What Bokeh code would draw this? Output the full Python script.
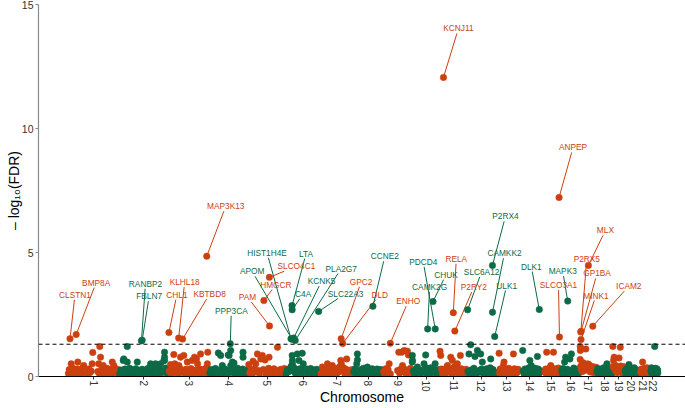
import math
import numpy as np
from bokeh.plotting import figure
from bokeh.models import ColumnDataSource, FixedTicker, Span, Range1d
from bokeh.core.properties import value
from bokeh.embed import file_html
from bokeh.resources import INLINE

# ---------------------------------------------------------------- data
chrom_labels = ["1", "2", "3", "4", "5", "6", "7", "8", "9", "10", "11",
                "12", "13", "14", "15", "16", "17", "18", "19", "20", "21", "22"]
chrom_len_mb = [249.3, 243.2, 198.0, 191.2, 180.9, 171.1, 159.1, 146.4, 141.2, 135.5, 135.0,
                133.9, 115.2, 107.3, 102.5, 90.4, 81.2, 78.1, 59.1, 63.0, 48.1, 51.3]

# background genes: position within chromosome (Mb) and -log10(FDR)
bg_pos = [
    [2, 6, 11, 15.6, 16, 20, 26, 31, 36, 41, 46, 48, 55, 60, 66, 72, 77, 84, 90, 96, 101, 108, 113, 118, 121,
     145, 150, 153, 155, 159, 165, 170, 172, 178, 184, 190, 196, 202, 208, 214, 216, 220, 224, 229, 235, 241, 246],
    [3, 9, 15, 20.5, 23, 28, 34, 40, 40, 46, 52, 58, 64, 70, 76, 82, 89, 95, 101, 107, 113, 120, 128, 134, 140,
     146, 152, 154, 154, 160, 166, 172, 178, 184, 190, 196, 203, 208, 214, 219, 222, 222, 222, 228, 234, 240],
    [2, 8, 12, 18, 24, 29, 33, 40, 46, 49, 53, 57, 62, 68, 73, 78, 84, 90, 96, 102, 108, 114, 120, 125, 130,
     135, 140, 145, 150, 155, 160, 166, 172, 178, 183, 188, 190, 194],
    [2, 8, 14, 20, 26, 30, 36, 43.5, 48, 55, 60, 63, 68, 74, 80, 86, 92, 96, 100, 104, 104, 108, 112, 116, 120,
     126, 132, 138, 144, 150, 156, 162, 164, 164, 170, 176, 182, 188],
    [1, 6, 12, 18, 22, 28, 35, 40, 43, 48, 54, 60, 67, 72, 80, 86, 92, 98, 100, 106, 112, 118, 124, 130, 136,
     141, 146, 152, 158, 164, 170, 175, 179],
    [2, 7, 12, 18, 24, 28, 30, 31, 32, 33, 33.5, 35, 38, 43, 48, 53, 57, 62, 65, 70, 76, 81, 86, 92, 98, 104,
     110, 116, 122, 128, 134, 140, 146, 152, 158, 164, 168],
    [2, 8, 13, 19, 25, 30, 33, 38, 44, 50, 57, 63, 70, 76, 82, 88, 94, 98, 101, 106, 112, 118, 124, 127, 132,
     138, 144, 150, 156],
    [2, 8, 14, 17, 20, 20.5, 26, 32, 38, 44, 50, 56, 62, 69, 75, 81, 87, 93, 99, 105, 111, 117, 123, 129, 135, 141],
    [2, 7, 12, 18, 24, 29, 35, 70, 76, 80, 86, 90, 94, 98, 103, 108, 113, 118, 123, 128, 133, 138],
    [0.5, 1, 1.5, 6, 12, 18, 26, 32, 40, 46, 52, 58, 62, 66, 70, 75, 80, 86, 92, 98, 104, 108, 112, 118, 124,
     130, 134],
    [0.5, 4, 8, 13, 19, 25, 31, 37, 43, 48, 53, 58, 61, 66, 70, 75, 80, 85, 90, 95, 100, 105, 110, 116, 122,
     128, 133],
    [2, 7, 11, 15, 20, 26, 31, 36, 42, 48, 54, 58, 64, 68, 72, 77, 82, 88, 94, 100, 106, 110, 113, 118, 124,
     129, 133],
    [20, 22, 25, 28, 32, 36, 41, 44, 48, 52, 57, 62, 67, 72, 77, 82, 87, 90, 95, 100, 105, 110, 113],
    [20, 23, 27, 31, 35, 40, 45, 50, 55, 59, 62, 66, 70, 74, 78, 82, 86, 90, 92, 96, 100, 104],
    [21, 25, 28, 30, 34, 38, 42, 46, 50, 54, 58, 63, 67, 71, 75, 79, 83, 87, 94, 98, 101],
    [1, 4, 8, 12, 15, 20, 24, 28, 31, 41, 48, 52, 56, 60, 64, 68, 72, 76, 80, 84, 88],
    [0.5, 1, 1.5, 3, 6, 9, 12, 15, 18, 22, 26, 28, 30, 34, 38, 40, 42, 46, 50, 54, 58, 62, 66, 70, 74, 78, 80],
    [1, 5, 9, 13, 17, 21, 25, 30, 34, 38, 42, 46, 50, 54, 58, 62, 66, 70, 74, 77],
    [0.5, 2, 4, 7, 10, 13, 16, 19, 22, 28, 31, 34, 37, 39, 42, 45, 48, 51, 54, 57],
    [1, 5, 9, 13, 17, 20, 24, 30, 34, 38, 42, 46, 50, 54, 58, 62],
    [15, 18, 21, 24, 27, 30, 33, 36, 39, 42, 45, 47],
    [17, 19, 21, 23, 25, 27, 30, 32, 35, 37, 39, 41, 43, 45, 47, 49, 50],
]
bg_val = [
    [0.12, 0.28, 0.18, 0.51, 0.22, 0.08, 0.32, 0.15, 0.25, 0.06, 0.30, 0.58, 0.14, 0.27, 0.10, 0.35, 0.44, 0.18,
     0.26, 0.07, 0.30, 0.16, 0.22, 0.51, 0.97, 0.20, 0.51, 0.12, 1.21, 0.78, 0.30, 0.10, 0.44, 0.24, 0.06, 0.33,
     0.15, 0.27, 0.09, 0.31, 0.58, 0.18, 0.44, 0.25, 0.07, 0.29, 0.13],
    [0.10, 0.26, 0.16, 0.65, 0.71, 0.30, 0.08, 1.21, 0.58, 0.22, 0.33, 0.12, 0.27, 0.05, 0.20, 0.31, 0.58, 0.14,
     0.25, 0.09, 0.29, 0.18, 0.06, 0.24, 0.32, 0.11, 0.21, 0.40, 0.51, 0.07, 0.28, 0.17, 0.51, 0.26, 0.10, 0.30,
     0.51, 0.15, 0.23, 0.65, 0.98, 0.78, 0.65, 0.34, 0.12, 0.20],
    [0.22, 0.48, 0.10, 0.30, 0.89, 0.51, 0.15, 0.27, 0.08, 0.44, 0.33, 0.78, 0.18, 0.25, 0.85, 0.12, 0.29, 0.58,
     0.06, 0.21, 0.32, 0.65, 0.14, 0.78, 0.26, 0.71, 0.51, 0.09, 0.30, 0.91, 0.19, 0.28, 0.07, 0.24, 0.35, 0.51,
     0.98, 0.16],
    [0.14, 0.28, 0.08, 0.22, 0.30, 0.32, 0.12, 0.95, 0.25, 0.85, 0.06, 0.44, 0.20, 0.31, 0.24, 0.10, 0.87, 0.85,
     0.27, 1.05, 0.44, 0.16, 0.58, 0.29, 0.54, 0.07, 0.23, 0.33, 0.13, 0.26, 0.09, 0.30, 0.98, 0.78, 0.18, 0.25,
     0.11, 0.28],
    [0.48, 0.15, 0.27, 0.09, 0.62, 0.30, 0.51, 0.18, 0.91, 0.24, 0.11, 0.71, 0.85, 0.28, 0.67, 0.07, 0.22, 0.33,
     0.78, 0.14, 0.26, 0.08, 0.31, 0.19, 0.12, 1.18, 0.25, 0.06, 0.29, 0.17, 0.23, 0.32, 0.10],
    [0.10, 0.25, 0.18, 0.30, 0.35, 0.40, 0.44, 0.30, 0.85, 0.65, 0.50, 0.38, 0.22, 0.33, 0.12, 0.28, 0.91, 0.20,
     0.65, 0.31, 0.09, 0.94, 0.51, 0.26, 0.15, 0.30, 0.07, 0.23, 0.32, 0.13, 0.27, 0.08, 0.21, 0.29, 0.11, 0.24,
     0.16],
    [0.12, 0.38, 0.20, 0.07, 0.26, 0.15, 0.51, 0.30, 0.09, 0.22, 0.44, 0.14, 0.28, 0.06, 0.33, 0.18, 0.40, 0.65,
     0.51, 0.25, 0.35, 0.10, 0.29, 0.71, 0.16, 0.24, 0.08, 0.27, 0.13],
    [0.18, 0.30, 0.10, 0.51, 0.91, 0.67, 0.24, 0.08, 0.28, 0.15, 0.33, 0.06, 0.22, 0.38, 0.12, 0.27, 0.19, 0.31,
     0.09, 0.25, 0.14, 0.30, 0.07, 0.21, 0.28, 0.13],
    [0.20, 0.08, 0.31, 0.15, 0.27, 0.51, 0.10, 0.24, 0.98, 0.13, 0.30, 0.98, 0.44, 0.19, 1.05, 0.28, 0.09, 1.02,
     0.87, 0.22, 0.33, 0.14],
    [0.58, 0.85, 0.65, 0.22, 0.10, 0.29, 0.38, 0.14, 0.06, 0.25, 0.18, 0.51, 0.31, 0.87, 0.12, 0.33, 0.27, 0.08,
     0.35, 0.20, 0.30, 0.15, 0.51, 0.24, 0.09, 0.28, 0.17],
    [1.02, 0.85, 0.30, 0.12, 0.25, 0.08, 0.33, 0.44, 0.18, 0.28, 0.78, 0.10, 0.65, 0.36, 0.22, 0.40, 0.15, 0.51,
     0.27, 0.06, 0.85, 0.31, 0.13, 0.24, 0.09, 0.29, 0.19],
    [0.20, 0.91, 0.10, 1.28, 0.27, 0.14, 0.33, 0.81, 0.07, 1.05, 0.24, 0.18, 0.91, 0.30, 0.58, 0.12, 0.26, 0.08,
     0.31, 0.16, 0.22, 0.35, 0.71, 0.11, 0.28, 0.19, 0.09],
    [0.94, 0.15, 0.30, 0.08, 0.25, 0.18, 0.44, 0.58, 0.12, 0.28, 0.06, 0.22, 0.33, 0.10, 0.26, 0.14, 0.20, 0.91,
     0.31, 0.09, 0.24, 0.17, 0.29],
    [1.05, 0.22, 0.10, 0.30, 0.16, 0.27, 0.07, 0.35, 0.65, 0.19, 0.44, 0.12, 0.28, 0.09, 0.25, 0.33, 0.14, 0.21,
     0.81, 0.30, 0.11, 0.24],
    [0.18, 0.30, 0.09, 0.98, 0.25, 0.12, 0.33, 0.20, 0.44, 0.07, 0.28, 0.98, 0.15, 0.31, 0.10, 0.26, 0.19, 0.34,
     0.08, 0.23, 0.14],
    [0.25, 0.12, 0.32, 0.08, 0.58, 0.78, 0.20, 0.29, 0.14, 0.71, 0.91, 0.26, 0.10, 0.34, 0.18, 0.07, 0.28, 0.22,
     0.13, 0.30, 0.16],
    [0.69, 1.21, 1.05, 0.40, 0.30, 0.48, 0.20, 0.55, 0.35, 0.42, 0.25, 1.11, 0.38, 0.50, 0.28, 0.50, 0.33, 0.45,
     0.18, 0.36, 0.27, 0.40, 0.15, 0.32, 0.22, 0.37, 0.12],
    [0.20, 0.32, 0.10, 0.26, 0.15, 0.30, 0.08, 0.22, 0.35, 0.12, 0.28, 0.18, 0.51, 0.24, 0.09, 0.30, 0.16, 0.27,
     0.11, 0.21],
    [1.21, 0.40, 0.65, 0.78, 0.30, 0.45, 0.22, 0.38, 0.15, 0.33, 0.75, 0.25, 1.18, 0.42, 0.28, 0.36, 0.12, 0.40,
     0.26, 0.18],
    [0.22, 0.10, 0.30, 0.16, 0.27, 0.48, 0.08, 0.33, 0.19, 0.25, 0.12, 0.35, 0.20, 0.28, 0.09, 0.24],
    [0.18, 0.30, 0.10, 0.58, 0.25, 0.14, 0.33, 0.08, 0.27, 0.20, 0.35, 0.12],
    [0.22, 0.35, 0.12, 0.28, 0.18, 0.30, 0.08, 0.25, 1.21, 0.33, 0.15, 0.27, 0.10, 0.31, 0.20, 0.26, 0.14],
]

# significant, labelled genes
gene_names = ["CLSTN1", "BMP8A", "RANBP2", "FBLN7", "CHL1", "KLHL18", "KBTBD8", "MAP3K13", "PPP3CA",
              "HMGCR", "SLCO4C1", "PAM", "HIST1H4E", "APOM", "LTA", "C4A", "KCNK5", "PLA2G7", "SLC22A3",
              "GPC2", "DLD", "CCNE2", "ENHO", "CAMK2G", "PDCD4", "CHUK", "KCNJ11", "RELA", "P2RY2",
              "SLC6A12", "P2RX4", "CAMKK2", "ULK1", "DLK1", "ANPEP", "SLCO3A1", "MAPK3", "P2RX5", "GP1BA",
              "MINK1", "MLX", "ICAM2"]
gene_chrom = [1, 1, 2, 2, 3, 3, 3, 3, 4, 5, 5, 5, 6, 6, 6, 6, 6, 6, 6, 7, 7, 8, 9, 10, 10, 10, 11, 11, 11,
              12, 12, 12, 12, 14, 15, 15, 16, 17, 17, 17, 17, 17]
gene_pos_mb = [9.8, 39.9, 109.4, 112.9, 0.2, 47.9, 67.1, 185.0, 102.0, 74.6, 101.6, 102.1, 26.2, 31.6, 31.5,
               31.9, 39.2, 46.7, 160.8, 100.1, 107.5, 95.9, 34.5, 75.6, 112.6, 101.9, 17.4, 65.4, 72.9,
               0.3, 121.6, 121.7, 132.4, 101.2, 90.3, 92.4, 30.1, 3.6, 4.8, 4.7, 40.7, 62.1]
gene_logfdr = [1.52, 1.69, 1.44, 1.46, 1.77, 1.55, 1.51, 4.85, 1.32, 3.06, 4.00, 2.04, 1.52, 1.50, 2.86,
               2.69, 1.55, 1.45, 2.62, 1.52, 1.33, 2.83, 1.34, 1.92, 1.92, 3.02, 12.06, 2.57, 1.83,
               2.69, 4.48, 2.59, 1.61, 2.70, 7.22, 1.59, 3.04, 1.79, 1.82, 1.49, 4.48, 2.03]

fdr_cutoff = 0.05

# ---------------------------------------------------------------- layout
W, H = 685, 408
BORDER_L, BORDER_R, BORDER_T, BORDER_B = 38, 0, 4, 32
FRAME_W = W - BORDER_L - BORDER_R
FRAME_H = H - BORDER_T - BORDER_B
X_START, X_END = -144.0, 3015.0
Y_START, Y_END = 0.0, 15.0
SX = FRAME_W / (X_END - X_START)   # px per Mb
SY = FRAME_H / (Y_END - Y_START)   # px per unit

# label placement, screen px from point to label centre (repelled layout)
label_dx = [5, 20, 4, 7, 8, 6, 27, 19, 1, 12, 27, -22, -24, -40, 14, 11, 28, 46, 27, 20, 37, 12, 18, 2,
            -12, 13, 15, 3, 19, 14, 13, 12, 12, -8, 14, -1, -5, 6, 16, 15, 17, 36]
label_dy = [-44, -52, -57, -44, -38, -56, -45, -50, -33, -16, -11, -29, -86, -68, -52, -16, -57, -72, -18,
            -57, -49, -50, -42, -42, -67, -27, -49, -54, -44, -38, -49, -59, -51, -43, -50, -52, -30, -73,
            -58, -44, -35, -40]

RED = "#CC4010"
GREEN = "#0D6A46"
LABEL_FONT = "Liberation Sans"
LABEL_SIZE = 8.3

offsets = np.concatenate([[0.0], np.cumsum(chrom_len_mb)[:-1]])
centers = offsets + np.array(chrom_len_mb) / 2.0


def chrom_color(idx):
    return RED if idx % 2 == 0 else GREEN


# background points
bx, by, bc = [], [], []
for i, (ps, vs) in enumerate(zip(bg_pos, bg_val)):
    for pos, val in zip(ps, vs):
        bx.append(offsets[i] + pos)
        by.append(val)
        bc.append(chrom_color(i))
bg_src = ColumnDataSource(dict(x=bx, y=by, c=bc))

# labelled points, segments and texts
gx = [offsets[c - 1] + p for c, p in zip(gene_chrom, gene_pos_mb)]
gc = [chrom_color(c - 1) for c in gene_chrom]
lx, ly, sx1, sy1 = [], [], [], []
for name, x, y, dx, dy in zip(gene_names, gx, gene_logfdr, label_dx, label_dy):
    lx.append(x + dx / SX)
    ly.append(y - dy / SY)
    half_w = len(name) * 0.62 * LABEL_SIZE / 2 + 1
    half_h = LABEL_SIZE * 0.6
    cands = []
    if dx:
        cands.append(half_w / abs(dx))
    if dy:
        cands.append(half_h / abs(dy))
    s = min(cands) if cands else 1.0
    f = max(0.0, 1.0 - s)
    sx1.append(x + f * dx / SX)
    sy1.append(y - f * dy / SY)

g_src = ColumnDataSource(dict(x=gx, y=gene_logfdr, c=gc, name=gene_names,
                              lx=lx, ly=ly, sx1=sx1, sy1=sy1))

p = figure(width=W, height=H, output_backend="svg", toolbar_location=None,
           min_border_left=BORDER_L, min_border_right=BORDER_R,
           min_border_top=BORDER_T, min_border_bottom=BORDER_B,
           x_range=Range1d(X_START, X_END), y_range=Range1d(Y_START, Y_END),
           background_fill_color="white", border_fill_color="white")
p.outline_line_color = None
p.xgrid.visible = False
p.ygrid.visible = False

p.scatter("x", "y", source=bg_src, size=6.5, fill_color="c", line_color="c", line_width=0.5)

p.add_layout(Span(location=-math.log10(fdr_cutoff), dimension="width",
                  line_color="black", line_width=1, line_dash="4 3"))

p.segment(x0="x", y0="y", x1="sx1", y1="sy1", source=g_src, line_color="c", line_width=1)
p.scatter("x", "y", source=g_src, size=6.5, fill_color="c", line_color="c", line_width=0.5)
p.text(x="lx", y="ly", text="name", source=g_src, text_color="c",
       text_font=value(LABEL_FONT), text_font_size=f"{LABEL_SIZE}px",
       text_align="center", text_baseline="middle")

# axes
xa = p.xaxis[0]
xa.ticker = FixedTicker(ticks=[round(float(c), 2) for c in centers])
xa.major_label_overrides = {round(float(c), 2): lab for c, lab in zip(centers, chrom_labels)}
xa.major_label_orientation = -math.pi / 2
xa.axis_label = "Chromosome"
xa.axis_line_color = "black"
xa.major_tick_line_color = "#333333"
xa.major_tick_out = 3
xa.major_tick_in = 0
xa.minor_tick_line_color = None
xa.major_label_standoff = 1
xa.axis_label_standoff = -6
xa.major_label_text_font = LABEL_FONT
xa.major_label_text_font_size = "10px"
xa.major_label_text_color = "#333333"
xa.axis_label_text_font = LABEL_FONT
xa.axis_label_text_font_size = "14px"
xa.axis_label_text_font_style = "normal"
xa.axis_label_text_color = "black"

ya = p.yaxis[0]
ya.ticker = FixedTicker(ticks=[0, 5, 10, 15])
ya.axis_label = "\u2013 log\u2081\u2080(FDR)"
ya.axis_line_color = "#8a8a8a"
ya.axis_line_width = 1.2
ya.major_tick_line_color = "#8a8a8a"
ya.major_tick_out = 3
ya.major_tick_in = 0
ya.minor_tick_line_color = None
ya.major_label_standoff = 2
ya.axis_label_standoff = -3
ya.major_label_text_font = LABEL_FONT
ya.major_label_text_font_size = "10.5px"
ya.major_label_text_color = "#333333"
ya.axis_label_text_font = LABEL_FONT
ya.axis_label_text_font_size = "14px"
ya.axis_label_text_font_style = "normal"
ya.axis_label_text_color = "black"

open("out.html", "w").write(file_html(p, INLINE))
